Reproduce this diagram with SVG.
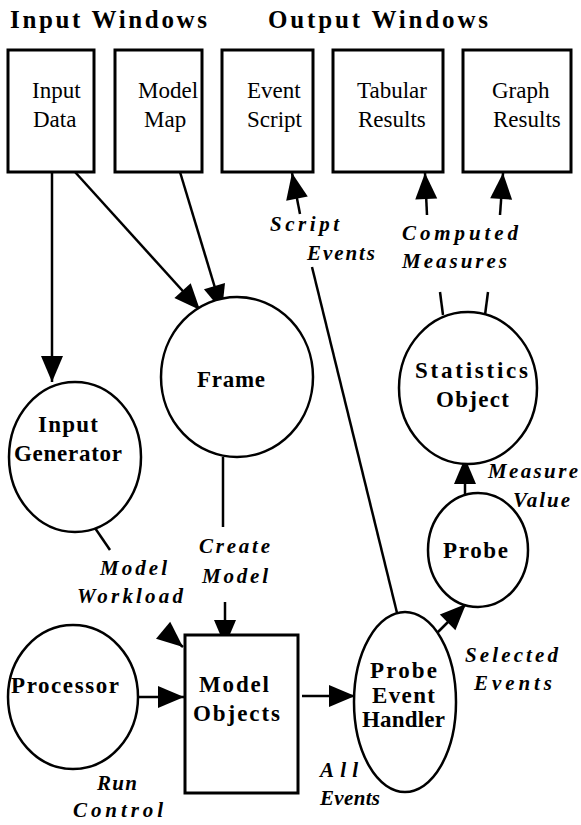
<svg xmlns="http://www.w3.org/2000/svg" width="581" height="825" viewBox="0 0 581 825">
<style>
.bg{fill:#fff}
.box{fill:#fff;stroke:#000;stroke-width:3}
.node{fill:#fff;stroke:#000;stroke-width:2.5}
.c{fill:none;stroke:#000;stroke-width:2.5}
.a{marker-end:url(#arr)}
text{font-family:'Liberation Serif','Times New Roman',serif;fill:#000}
.h{font-weight:bold;font-size:25px}
.t{font-size:23px}
.b{font-weight:bold;font-size:23px}
.l{font-weight:bold;font-style:italic;font-size:21px}
</style>
<defs>
<marker id="arr" markerUnits="userSpaceOnUse" markerWidth="28" markerHeight="24" refX="26" refY="11" orient="auto" overflow="visible">
<path d="M0,0 L26,11 L0,22 z" fill="#000"/>
</marker>
</defs>
<rect class="bg" x="0" y="0" width="581" height="825"/>

<g id="headings">
<text class="h" x="10" y="28" textLength="197" lengthAdjust="spacing">Input Windows</text>
<text class="h" x="268" y="28" textLength="220" lengthAdjust="spacing">Output Windows</text>
</g>

<g id="connectors">
<path class="c a" d="M52,172 L52,382"/>
<path class="c a" d="M75,172 L200,310"/>
<path class="c a" d="M180,172 L222,311"/>
<path class="c a" d="M300,214 L292,173"/>
<path class="c" d="M312,267 L400,625"/>
<path class="c a" d="M427,215 L425,173"/>
<path class="c a" d="M500,215 L503,173"/>
<path class="c" d="M440,292 L443,315"/>
<path class="c" d="M488,292 L485,315"/>
<path class="c a" d="M465,503 L465,458"/>
<path class="c a" d="M433,637 L466,604"/>
<path class="c a" d="M302,696 L355,696"/>
<path class="c a" d="M138,697 L184,697"/>
<path class="c" d="M223,457 L223,527"/>
<path class="c a" d="M225,602 L225,646"/>
<path class="c" d="M95,528 L110,550"/>
<path class="c a" d="M164,631 L183,647"/>
</g>

<g id="input-data">
<rect class="box" x="8" y="50" width="86" height="122"/>
<text class="t" x="32" y="98">Input</text>
<text class="t" x="33" y="127">Data</text>
</g>
<g id="model-map">
<rect class="box" x="115" y="50" width="87" height="122"/>
<text class="t" x="138" y="98">Model</text>
<text class="t" x="144" y="127">Map</text>
</g>
<g id="event-script">
<rect class="box" x="222" y="50" width="91" height="122"/>
<text class="t" x="247" y="98">Event</text>
<text class="t" x="247" y="127">Script</text>
</g>
<g id="tabular-results">
<rect class="box" x="333" y="50" width="110" height="122"/>
<text class="t" x="357" y="98">Tabular</text>
<text class="t" x="358" y="127">Results</text>
</g>
<g id="graph-results">
<rect class="box" x="463" y="50" width="108" height="122"/>
<text class="t" x="492" y="98">Graph</text>
<text class="t" x="493" y="127">Results</text>
</g>

<g id="frame">
<ellipse class="node" cx="237" cy="377" rx="76" ry="80"/>
<text class="b" x="197" y="387" textLength="68" lengthAdjust="spacing">Frame</text>
</g>
<g id="input-generator">
<ellipse class="node" cx="75" cy="457" rx="66" ry="75"/>
<text class="b" x="38" y="432" textLength="60" lengthAdjust="spacing">Input</text>
<text class="b" x="14" y="461" textLength="108" lengthAdjust="spacing">Generator</text>
</g>
<g id="statistics-object">
<ellipse class="node" cx="468" cy="388" rx="69" ry="76"/>
<text class="b" x="415" y="378" textLength="113" lengthAdjust="spacing">Statistics</text>
<text class="b" x="436" y="407" textLength="73" lengthAdjust="spacing">Object</text>
</g>
<g id="probe">
<ellipse class="node" cx="478" cy="550" rx="50" ry="57"/>
<text class="b" x="443" y="558" textLength="65" lengthAdjust="spacing">Probe</text>
</g>
<g id="probe-event-handler">
<ellipse class="node" cx="405" cy="702" rx="51" ry="90"/>
<text class="b" x="370" y="678" textLength="67" lengthAdjust="spacing">Probe</text>
<text class="b" x="372" y="703" textLength="63" lengthAdjust="spacing">Event</text>
<text class="b" x="362" y="727" textLength="83" lengthAdjust="spacing">Handler</text>
</g>
<g id="processor">
<ellipse class="node" cx="73" cy="697" rx="65" ry="72"/>
<text class="b" x="11" y="693" textLength="108" lengthAdjust="spacing">Processor</text>
</g>
<g id="model-objects">
<rect class="box" x="185" y="635" width="113" height="158"/>
<text class="b" x="199" y="692" textLength="70" lengthAdjust="spacing">Model</text>
<text class="b" x="193" y="721" textLength="87" lengthAdjust="spacing">Objects</text>
</g>

<g id="labels">
<text class="l" x="270" y="231" textLength="69" lengthAdjust="spacing">Script</text>
<text class="l" x="307" y="260" textLength="68" lengthAdjust="spacing">Events</text>
<text class="l" x="402" y="240" textLength="116" lengthAdjust="spacing">Computed</text>
<text class="l" x="402" y="268" textLength="105" lengthAdjust="spacing">Measures</text>
<text class="l" x="488" y="478" textLength="90" lengthAdjust="spacing">Measure</text>
<text class="l" x="513" y="507" textLength="57" lengthAdjust="spacing">Value</text>
<text class="l" x="465" y="662" textLength="93" lengthAdjust="spacing">Selected</text>
<text class="l" x="474" y="690" textLength="78" lengthAdjust="spacing">Events</text>
<text class="l" x="320" y="777" textLength="38" lengthAdjust="spacing">All</text>
<text class="l" x="320" y="805" textLength="60" lengthAdjust="spacing">Events</text>
<text class="l" x="100" y="575" textLength="67" lengthAdjust="spacing">Model</text>
<text class="l" x="77" y="603" textLength="106" lengthAdjust="spacing">Workload</text>
<text class="l" x="199" y="553" textLength="71" lengthAdjust="spacing">Create</text>
<text class="l" x="202" y="583" textLength="66" lengthAdjust="spacing">Model</text>
<text class="l" x="97" y="790" textLength="40" lengthAdjust="spacing">Run</text>
<text class="l" x="73" y="817" textLength="90" lengthAdjust="spacing">Control</text>
</g>
</svg>
